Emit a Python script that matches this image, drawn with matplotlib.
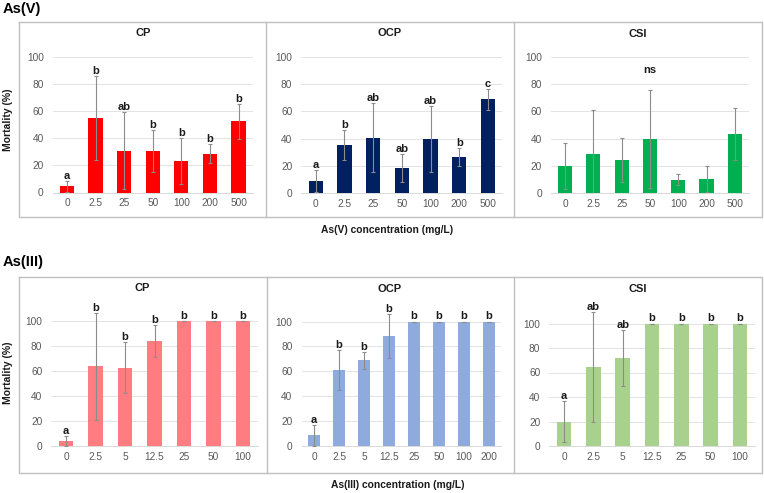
import matplotlib
matplotlib.use('Agg')
import matplotlib.pyplot as plt
from matplotlib.lines import Line2D

plt.rcParams['font.family'] = ['Liberation Sans', 'DejaVu Sans']

W, H = 764, 493

# ---- data: As(V) ----
conc_v = ['0', '2.5', '25', '50', '100', '200', '500']
cp_v = [4.7, 55, 30.8, 30.8, 23, 28.5, 52.4]
cp_v_err = [4, 31, 28.5, 15.5, 17, 7, 12.6]
cp_v_sig = ['a', 'b', 'ab', 'b', 'b', 'b', 'b']
ocp_v = [8.8, 35.3, 40.7, 18.4, 39.7, 26.2, 68.9]
ocp_v_err = [8, 11.3, 25.5, 10.3, 24, 6.6, 7.6]
ocp_v_sig = ['a', 'b', 'ab', 'ab', 'ab', 'b', 'c']
csi_v = [19.8, 29, 24.1, 39.5, 9.8, 10.2, 43.2]
csi_v_err = [16.8, 31.7, 16.3, 36, 4, 9.3, 19]
csi_v_sig = ['', '', '', '', '', '', '']

# ---- data: As(III) ----
conc_cp3 = ['0', '2.5', '5', '12.5', '25', '50', '100']
cp_3 = [4.3, 63.8, 62.8, 84, 100, 100, 100]
cp_3_err = [4, 42.6, 20.7, 12.8, 0, 0, 0]
cp_3_sig = ['a', 'b', 'b', 'b', 'b', 'b', 'b']
conc_ocp3 = ['0', '2.5', '5', '12.5', '25', '50', '100', '200']
ocp_3 = [8.6, 61, 68.7, 88.5, 100, 100, 100, 100]
ocp_3_err = [8.5, 16, 6.7, 17.6, 0, 0, 0, 0]
ocp_3_sig = ['a', 'b', 'b', 'b', 'b', 'b', 'b', 'b']
conc_csi3 = ['0', '2.5', '5', '12.5', '25', '50', '100']
csi_3 = [19.9, 64.6, 71.9, 100, 100, 100, 100]
csi_3_err = [16.9, 45, 23, 0, 0, 0, 0]
csi_3_sig = ['a', 'ab', 'ab', 'b', 'b', 'b', 'b']

fig = plt.figure(figsize=(W / 100, H / 100), dpi=100)


def add_ax(left, right, y0, y100, ymax):
    # pixel coords (top-origin) -> figure fraction
    ppu = (y0 - y100) / 100.0
    top = y0 - ymax * ppu
    return fig.add_axes([left / W, 1 - y0 / H, (right - left) / W, (y0 - top) / H])


def panel(ax, cats, vals, errs, sig, color, title, ymax, title_y):
    x = range(len(cats))
    ax.bar(x, vals, width=0.5, color=color, zorder=2)
    ax.errorbar(x, vals, yerr=errs, fmt='none', ecolor='#8c8c8c',
                elinewidth=0.8, capsize=1.2, capthick=0.8, zorder=3)
    for i, s in enumerate(sig):
        if s:
            ax.annotate(s, (i, vals[i] + errs[i]), xytext=(0, 1.5),
                        textcoords='offset points', ha='center', va='baseline',
                        fontsize=8, fontweight='bold', color='#1a1a1a')
    ax.set_xlim(-0.5, len(cats) - 0.5)
    ax.set_ylim(0, ymax)
    ax.set_yticks([0, 20, 40, 60, 80, 100])
    ax.set_xticks(list(x))
    ax.set_xticklabels(cats)
    for g in [20, 40, 60, 80, 100]:
        ax.axhline(g, color='#e3e3e3', lw=0.7, zorder=1)
    for sp in ['left', 'right', 'top']:
        ax.spines[sp].set_visible(False)
    ax.spines['bottom'].set_color('#d9d9d9')
    ax.spines['bottom'].set_linewidth(0.7)
    ax.tick_params(length=0, labelsize=7.3, colors='#595959')
    ax.tick_params(axis='y', pad=6.5)
    ax.tick_params(axis='x', pad=4)
    ax.patch.set_alpha(0)
    fig.text(title_y[0] / W, 1 - title_y[1] / H, title, ha='center', va='center',
             fontsize=8, fontweight='bold', color='#1a1a1a')


def box(x0, x1, y0, y1, dividers):
    kw = dict(color='#bfbfbf', lw=1.0, transform=fig.transFigure)
    fx = lambda v: v / W
    fy = lambda v: 1 - v / H
    fig.add_artist(Line2D([fx(x0), fx(x1), fx(x1), fx(x0), fx(x0)],
                          [fy(y0), fy(y0), fy(y1), fy(y1), fy(y0)], **kw))
    for d in dividers:
        fig.add_artist(Line2D([fx(d), fx(d)], [fy(y0), fy(y1)], **kw))


# ---- top row: As(V) ----
box(19, 762, 22.3, 216.7, [266, 514])
a1 = add_ax(52.7, 252.8, 192.5, 57, 100)
panel(a1, conc_v, cp_v, cp_v_err, cp_v_sig, '#FF0000', 'CP', 100, (143, 33))
a2 = add_ax(301.4, 502.3, 193, 57, 100)
panel(a2, conc_v, ocp_v, ocp_v_err, ocp_v_sig, '#002060', 'OCP', 100, (390, 33))
a3 = add_ax(550.8, 749, 193, 57, 100)
panel(a3, conc_v, csi_v, csi_v_err, csi_v_sig, '#00B050', 'CSI', 100, (638, 34))
a3.text(3, 88, 'ns', ha='center', va='baseline', fontsize=8,
        fontweight='bold', color='#1a1a1a')

fig.text(3 / W, 1 - 9.5 / H, 'As(V)', ha='left', va='center', fontsize=10.5,
         fontweight='bold')
fig.text(387 / W, 1 - 230 / H, 'As(V) concentration (mg/L)', ha='center',
         va='center', fontsize=7.4, fontweight='bold', color='#1a1a1a')
fig.text(8 / W, 1 - 120 / H, 'Mortality (%)', ha='center', va='center',
         rotation=90, fontsize=7.5, fontweight='bold', color='#1a1a1a')

# ---- bottom row: As(III) ----
box(18.5, 762, 277.3, 473, [266.5, 514])
b1 = add_ax(51.3, 257.8, 446, 321, 125)
panel(b1, conc_cp3, cp_3, cp_3_err, cp_3_sig, '#FF7C80', 'CP', 125, (142, 288))
b2 = add_ax(301.5, 501.5, 446, 321.5, 125)
panel(b2, conc_ocp3, ocp_3, ocp_3_err, ocp_3_sig, '#8FAADC', 'OCP', 125, (390, 289))
b3 = add_ax(549.4, 754.5, 446, 323.5, 125)
panel(b3, conc_csi3, csi_3, csi_3_err, csi_3_sig, '#A9D18E', 'CSI', 125, (638, 289))

fig.text(3 / W, 1 - 262 / H, 'As(III)', ha='left', va='center', fontsize=10.5,
         fontweight='bold')
fig.text(398 / W, 1 - 485 / H, 'As(III) concentration (mg/L)', ha='center',
         va='center', fontsize=7.4, fontweight='bold', color='#1a1a1a')
fig.text(8 / W, 1 - 373 / H, 'Mortality (%)', ha='center', va='center',
         rotation=90, fontsize=7.5, fontweight='bold', color='#1a1a1a')

fig.savefig('out.png', dpi=100)
